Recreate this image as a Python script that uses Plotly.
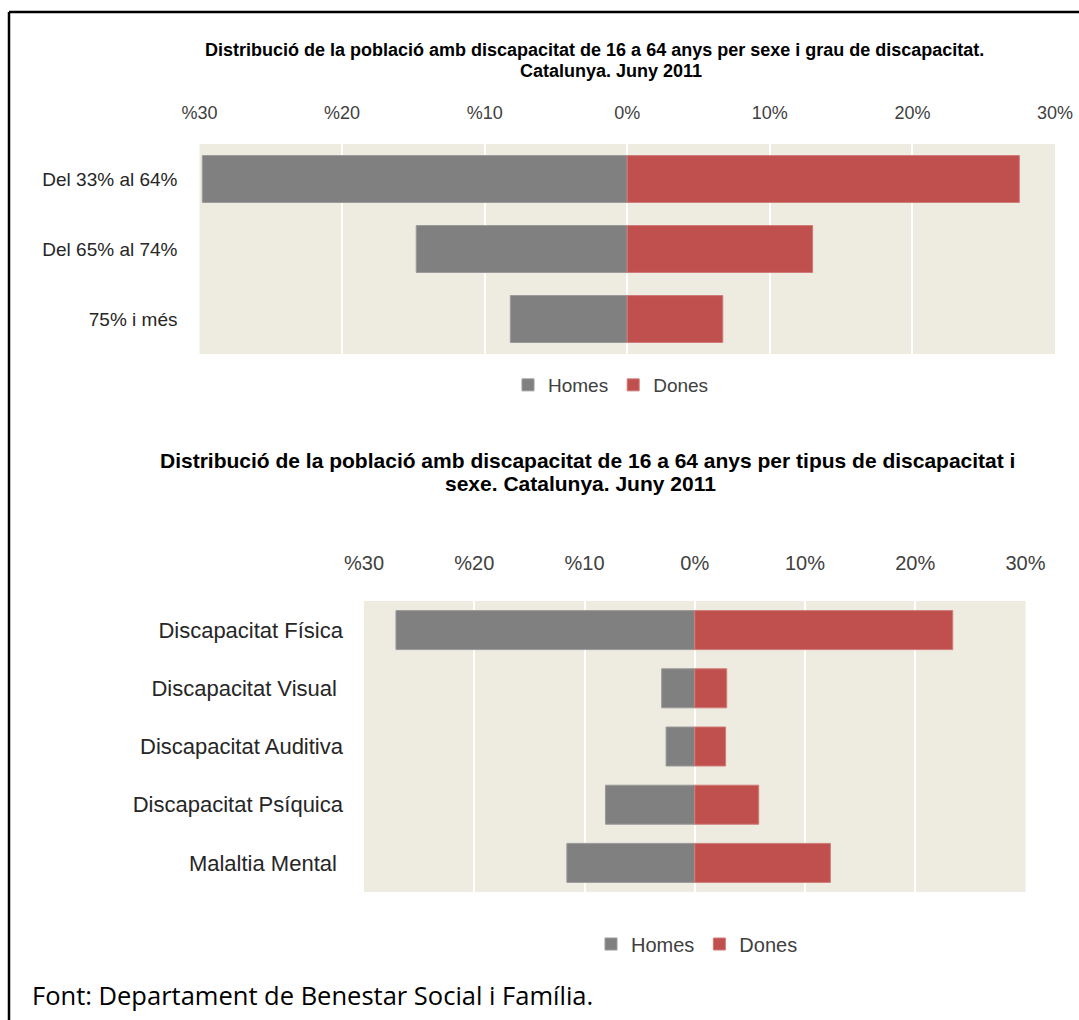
import plotly.graph_objects as go

# ---------------- data ----------------
grau_categories = ["Del 33% al 64%", "Del 65% al 74%", "75% i més"]
grau_homes = [29.8, 14.8, 8.2]
grau_dones = [27.5, 13.0, 6.7]

tipus_categories = ["Discapacitat Física", "Discapacitat Visual ", "Discapacitat Auditiva",
                    "Discapacitat Psíquica", "Malaltia Mental "]
tipus_homes = [27.1, 3.0, 2.6, 8.1, 11.6]
tipus_dones = [23.4, 2.9, 2.8, 5.8, 12.3]

tick_vals = [-30, -20, -10, 0, 10, 20, 30]
tick_text = ["%30", "%20", "%10", "0%", "10%", "20%", "30%"]

title1 = ["Distribució de la població amb discapacitat de 16 a 64 anys per sexe i grau de discapacitat.",
          "Catalunya. Juny 2011"]
title2 = ["Distribució de la població amb discapacitat de 16 a 64 anys per tipus de discapacitat i",
          "sexe. Catalunya. Juny 2011"]
source_text = "Font: Departament de Benestar Social i Família."

# ---------------- styling ----------------
W, H = 1079, 1020
GRAY = "#808080"
RED = "#C0504D"
BG = "#EEEBE0"
TXT = "#404040"
FONT = "Liberation Sans, Arial, sans-serif"


def px_x(x):
    return x / W


def px_y(y):
    return 1 - y / H


fig = go.Figure()

# Chart 1
fig.add_trace(go.Bar(y=grau_categories, x=[-v for v in grau_homes], orientation="h",
                     name="Homes", marker=dict(color=GRAY, line=dict(color="#9a9a9a", width=1)),
                     customdata=grau_homes, hovertemplate="%{y}: %{customdata}%<extra>Homes</extra>",
                     xaxis="x", yaxis="y", legend="legend"))
fig.add_trace(go.Bar(y=grau_categories, x=grau_dones, orientation="h",
                     name="Dones", marker=dict(color=RED, line=dict(color="#d07b78", width=1)),
                     hovertemplate="%{y}: %{x}%<extra>Dones</extra>",
                     xaxis="x", yaxis="y", legend="legend"))

# Chart 2
fig.add_trace(go.Bar(y=tipus_categories, x=[-v for v in tipus_homes], orientation="h",
                     name="Homes", marker=dict(color=GRAY, line=dict(color="#9a9a9a", width=1)),
                     customdata=tipus_homes, hovertemplate="%{y}: %{customdata}%<extra>Homes</extra>",
                     xaxis="x2", yaxis="y2", legend="legend2"))
fig.add_trace(go.Bar(y=tipus_categories, x=tipus_dones, orientation="h",
                     name="Dones", marker=dict(color=RED, line=dict(color="#d07b78", width=1)),
                     hovertemplate="%{y}: %{x}%<extra>Dones</extra>",
                     xaxis="x2", yaxis="y2", legend="legend2"))

axis_common = dict(tickmode="array", tickvals=tick_vals, ticktext=tick_text, range=[-30, 30],
                   showgrid=True, gridcolor="white", gridwidth=2, zeroline=True,
                   zerolinecolor="white", zerolinewidth=2, showline=False, ticks="",
                   fixedrange=True, side="top", automargin=False)
yaxis_common = dict(type="category", showgrid=False, ticks="", fixedrange=True,
                    automargin=False, zeroline=False, showline=False)

fig.update_layout(
    width=W, height=H,
    margin=dict(l=0, r=0, t=0, b=0, pad=0, autoexpand=False),
    paper_bgcolor="white", plot_bgcolor=BG,
    barmode="relative", bargap=0.33,
    font=dict(family=FONT, color=TXT),
    xaxis=dict(**axis_common, domain=[px_x(199.5), px_x(1055)], anchor="y",
               tickfont=dict(size=18, color=TXT), ticklabelstandoff=20),
    yaxis=dict(**yaxis_common, domain=[px_y(354), px_y(144)], anchor="x", range=[2.5, -0.5],
               tickfont=dict(size=19, color="#262626"), ticklabelstandoff=21),
    xaxis2=dict(**axis_common, domain=[px_x(364), px_x(1025.5)], anchor="y2",
                tickfont=dict(size=20, color=TXT), ticklabelstandoff=26),
    yaxis2=dict(**yaxis_common, domain=[px_y(892), px_y(601)], anchor="x2", range=[4.5, -0.5],
                tickfont=dict(size=22, color="#262626"), ticklabelstandoff=20),
    legend=dict(orientation="h", x=px_x(611), y=px_y(385), xanchor="center", yanchor="middle",
                font=dict(size=19, color=TXT), bgcolor="rgba(0,0,0,0)", traceorder="normal",
                itemwidth=30),
    legend2=dict(orientation="h", x=px_x(697), y=px_y(944), xanchor="center", yanchor="middle",
                 font=dict(size=20, color=TXT), bgcolor="rgba(0,0,0,0)", traceorder="normal",
                 itemwidth=30),
    showlegend=True,
)

annotations = [
    dict(text="<b>" + title1[0] + "</b>", x=px_x(594.5), y=px_y(50), font=dict(size=18, color="black")),
    dict(text="<b>" + title1[1] + "</b>", x=px_x(611), y=px_y(71), font=dict(size=18, color="black")),
    dict(text="<b>" + title2[0] + "</b>", x=px_x(587), y=px_y(461), font=dict(size=21, color="black")),
    dict(text="<b>" + title2[1] + "</b>", x=px_x(580), y=px_y(483), font=dict(size=21, color="black")),
]
for a in annotations:
    a.update(xref="paper", yref="paper", xanchor="center", yanchor="middle", showarrow=False,
             font=dict(family=FONT, **a["font"]))
annotations.append(dict(text=source_text, x=px_x(30), y=px_y(995), xref="paper", yref="paper",
                        xanchor="left", yanchor="middle", showarrow=False,
                        font=dict(family="Open Sans, sans-serif", size=25.5, color="black")))
fig.update_layout(annotations=annotations)

# frame lines (top and left)
fig.update_layout(shapes=[
    dict(type="line", xref="paper", yref="paper", x0=px_x(9), x1=1, y0=px_y(12), y1=px_y(12),
         line=dict(color="black", width=2.5)),
    dict(type="line", xref="paper", yref="paper", x0=px_x(9), x1=px_x(9), y0=px_y(12), y1=0,
         line=dict(color="black", width=2.5)),
])

fig.write_html("out.html")
